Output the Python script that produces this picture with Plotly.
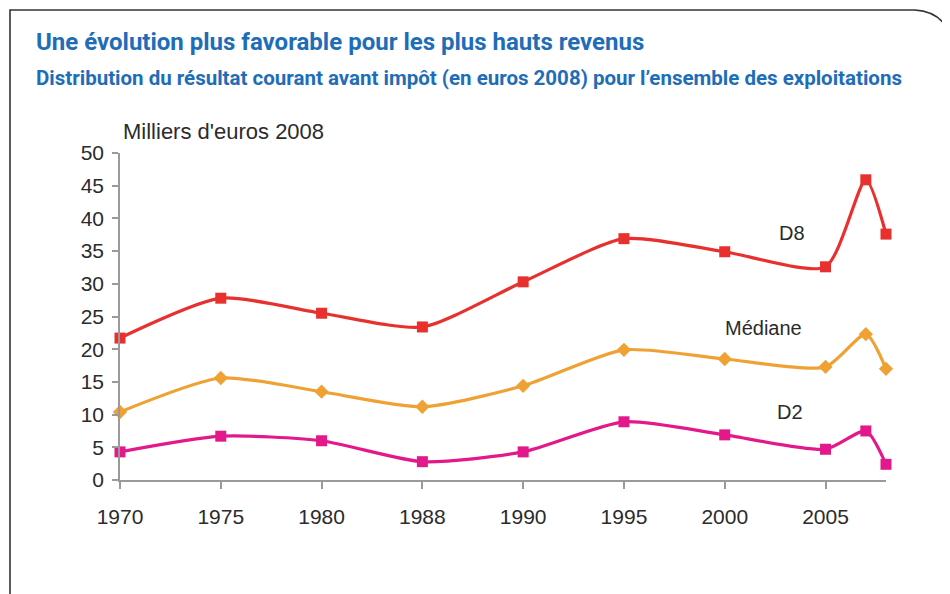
import plotly.graph_objects as go

# ---- data ----
years = [1970, 1975, 1980, 1988, 1990, 1995, 2000, 2005, 2007, 2008]
tick_years = [1970, 1975, 1980, 1988, 1990, 1995, 2000, 2005]
tick_labels = ["1970", "1975", "1980", "1988", "1990", "1995", "2000", "2005"]
d8 = [21.7, 27.8, 25.5, 23.4, 30.3, 36.9, 34.9, 32.6, 45.9, 37.6]
mediane = [10.4, 15.6, 13.5, 11.2, 14.4, 19.9, 18.5, 17.3, 22.3, 17.0]
d2 = [4.3, 6.7, 6.0, 2.8, 4.3, 8.9, 6.9, 4.7, 7.5, 2.4]
y_ticks = [0, 5, 10, 15, 20, 25, 30, 35, 40, 45, 50]

series = [
    ("D8", d8, "#E8312F", "square"),
    ("Médiane", mediane, "#EFA233", "diamond"),
    ("D2", d2, "#E3198B", "square"),
]


def xpos(year):
    # axis of the original: one slot per labelled year, then 5 years per slot after 2005
    if year in tick_years:
        return tick_years.index(year)
    return tick_years.index(2005) + (year - 2005) / 5


x_vals = [xpos(y) for y in years]
tick_pos = [xpos(y) for y in tick_years]

FONT = "Liberation Sans, Arial, sans-serif"
TITLE_FONT = "Roboto, Liberation Sans, Arial, sans-serif"

# page offset (browser body margin) and plot area in page pixels
OFF = 8
W, H = 950 - OFF, 594 - OFF
L_PG, R_PG, T_PG, B_PG = 120, 886, 153, 480
PW, PH = R_PG - L_PG, B_PG - T_PG


def px(xp):
    return (xp - L_PG) / PW


def py(yp):
    return (B_PG - yp) / PH


fig = go.Figure()
for name, vals, color, sym in series:
    fig.add_trace(go.Scatter(
        x=x_vals, y=vals, name=name, mode="lines+markers",
        line=dict(color=color, width=3.2, shape="spline", smoothing=0.65),
        marker=dict(symbol=sym, size=11, color=color),
        cliponaxis=False, showlegend=False,
    ))

label_font = dict(family=FONT, size=20, color="#2b2b2b")

fig.update_layout(
    width=W, height=H,
    paper_bgcolor="white", plot_bgcolor="white",
    margin=dict(l=L_PG - OFF, r=950 - R_PG, t=T_PG - OFF, b=594 - B_PG),
    xaxis=dict(
        range=[0, xpos(2008)], tickmode="array", tickvals=tick_pos, ticktext=tick_labels,
        showgrid=False, zeroline=False, showline=True, linecolor="#9a9a9a", linewidth=1.5,
        ticks="outside", ticklen=7, tickcolor="#9a9a9a", tickwidth=1.5,
        tickfont=dict(family=FONT, size=21, color="#2b2b2b"), ticklabelstandoff=10,
    ),
    yaxis=dict(
        range=[0, 50], tickmode="array", tickvals=y_ticks,
        showgrid=False, zeroline=False, showline=True, linecolor="#9a9a9a", linewidth=1.5,
        ticks="outside", ticklen=6, tickcolor="#9a9a9a", tickwidth=1.5,
        tickfont=dict(family=FONT, size=21, color="#2b2b2b"), ticklabelstandoff=4,
    ),
    annotations=[
        dict(text="<b>Une évolution plus favorable pour les plus hauts revenus</b>",
             xref="paper", yref="paper", x=px(34), y=py(42),
             xanchor="left", yanchor="middle", showarrow=False,
             font=dict(family=TITLE_FONT, size=24, color="#1E6DB8")),
        dict(text="<b>Distribution du résultat courant avant impôt (en euros 2008) pour l’ensemble des exploitations</b>",
             xref="paper", yref="paper", x=px(34), y=py(78),
             xanchor="left", yanchor="middle", showarrow=False,
             font=dict(family=TITLE_FONT, size=20.5, color="#1E6DB8")),
        dict(text="Milliers d'euros 2008",
             xref="paper", yref="paper", x=px(121), y=py(132),
             xanchor="left", yanchor="middle", showarrow=False,
             font=dict(family=FONT, size=22, color="#2b2b2b")),
        dict(text="D8", xref="paper", yref="paper", x=px(792), y=py(233),
             xanchor="center", yanchor="middle", showarrow=False, font=label_font),
        dict(text="Médiane", xref="paper", yref="paper", x=px(763), y=py(328),
             xanchor="center", yanchor="middle", showarrow=False, font=label_font),
        dict(text="D2", xref="paper", yref="paper", x=px(790), y=py(412),
             xanchor="center", yanchor="middle", showarrow=False, font=label_font),
    ],
)

# frame with rounded top-right corner (page pixels converted to paper coordinates)
path = (f"M {px(10)},{py(600)} L {px(10)},{py(10)} L {px(915)},{py(10)} "
        f"Q {px(945)},{py(12)} {px(951)},{py(40)}")
fig.add_shape(type="path", path=path, xref="paper", yref="paper",
              line=dict(color="#333333", width=1.6))

fig.write_html("out.html")
